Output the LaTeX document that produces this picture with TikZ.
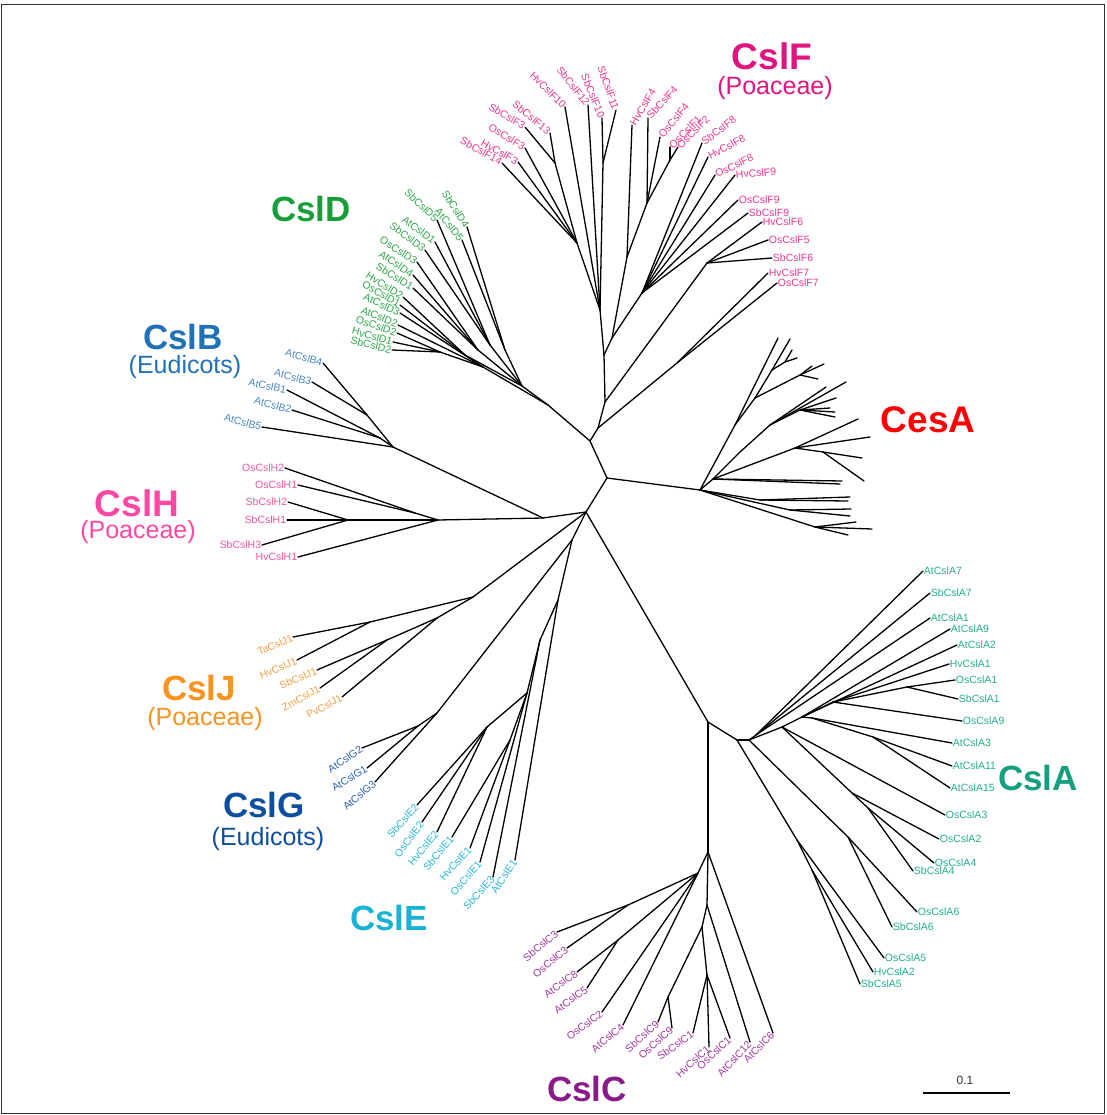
\documentclass[tikz,border=0pt]{standalone}
\usepackage{fontspec}
\setmainfont{Liberation Sans}
\definecolor{hF}{HTML}{E0157F}\definecolor{lFc}{HTML}{E8388F}
\definecolor{hD}{HTML}{179E38}\definecolor{lDc}{HTML}{2FA84A}
\definecolor{hB}{HTML}{2171B8}\definecolor{lBc}{HTML}{4A86C4}
\definecolor{hH}{HTML}{FF48A4}\definecolor{lHc}{HTML}{F0559F}
\definecolor{hA}{HTML}{139F80}\definecolor{lAc}{HTML}{22AE90}
\definecolor{hJ}{HTML}{F7931E}\definecolor{lJc}{HTML}{F3A045}
\definecolor{hG}{HTML}{0E4E9E}\definecolor{lGc}{HTML}{2A62B0}
\definecolor{hE}{HTML}{1AB3D5}\definecolor{lEc}{HTML}{2AB8D8}
\definecolor{hC}{HTML}{8A1A88}\definecolor{lCc}{HTML}{A23A9E}
\tikzset{
  br/.style={line width=1.3pt, line cap=round, black},
  lf/.style={font=\fontsize{10.5}{12}\selectfont, inner sep=0.7pt},
  lF/.style={lf,text=lFc}, lD/.style={lf,text=lDc}, lB/.style={lf,text=lBc},
  lH/.style={lf,text=lHc}, lA/.style={lf,text=lAc}, lJ/.style={lf,text=lJc},
  lG/.style={lf,text=lGc}, lE/.style={lf,text=lEc}, lC/.style={lf,text=lCc},
  hd/.style={font=\fontsize{35}{40}\selectfont\bfseries, inner sep=0pt},
  subt/.style={font=\fontsize{25}{30}\selectfont, inner sep=0pt}
}
\newcommand{\Leaf}[7]{\node[#6,anchor=#3,rotate=#4] (#1) at (#2) {#7}; \draw[br] (#5) -- (#1.#3);}
\begin{document}
\begin{tikzpicture}[x=1pt,y=-1pt]
\useasboundingbox (0,0) rectangle (1106,1115);
\coordinate (frA) at (1.5,4.5); \coordinate (frB) at (1104.5,1113.5);
\draw[line width=1.6pt, black!80] (frA) rectangle (frB);
% ---------- internal nodes ----------
\coordinate (R1) at (607,478); \coordinate (R2) at (586,512);
\coordinate (FD) at (590,441); \coordinate (F1) at (598,428); \coordinate (F2) at (605,402);
\coordinate (FV) at (604,355); \coordinate (FA) at (600,310); \coordinate (F3g) at (577,243);
\coordinate (F313) at (555,163); \coordinate (F1011) at (603,163); \coordinate (FB) at (612,338);
\coordinate (FB1) at (627,257); \coordinate (F4g) at (647,203); \coordinate (F12) at (670,160);
\coordinate (FC) at (642,293); \coordinate (F6) at (707,263); \coordinate (F7) at (677,363);
\coordinate (D1) at (548,405); \coordinate (Da) at (522,386); \coordinate (Db) at (483,367);
\coordinate (Da4) at (505,350); \coordinate (Da1) at (490,345); \coordinate (Da2) at (478,350);
\coordinate (Da3) at (465,355); \coordinate (Db1) at (440,352);
\coordinate (BH) at (543,518); \coordinate (B0) at (393,447); \coordinate (B43) at (367,415);
\coordinate (B12) at (380,438); \coordinate (H0) at (438,520); \coordinate (H2) at (415,513);
\coordinate (H1) at (348,520);
\coordinate (J0) at (473,597); \coordinate (J1) at (370,622); \coordinate (J2) at (437,618);
\coordinate (J3) at (387,640);
\coordinate (GE) at (572,540); \coordinate (G0) at (437,713); \coordinate (G1) at (418,726);
\coordinate (E0) at (558,600); \coordinate (E1) at (540,640); \coordinate (E2) at (527,693);
\coordinate (E3) at (510,740); \coordinate (E4) at (487,727);
\coordinate (AC) at (708,722); \coordinate (Alow) at (737,740); \coordinate (A0) at (749,740);
\coordinate (AU) at (756,735); \coordinate (A1) at (782,727); \coordinate (A2) at (802,717);
\coordinate (A3) at (833,702); \coordinate (A31) at (907,687); \coordinate (A4) at (812,718);
\coordinate (A41) at (873,737); \coordinate (Am) at (852,793); \coordinate (Am2) at (868,808);
\coordinate (L1) at (797,840); \coordinate (L1b) at (812,870); \coordinate (L2) at (848,837);
\coordinate (C0) at (708,852); \coordinate (C1) at (698,873); \coordinate (C11) at (628,905);
\coordinate (C12) at (618,940); \coordinate (C2) at (707,905); \coordinate (C3) at (702,927);
\coordinate (C4) at (707,975); \coordinate (C5) at (668,997);
% CesA
\coordinate (Ce0) at (700,490); \coordinate (Cu1) at (735,425); \coordinate (Cu2) at (755,398);
\coordinate (Cu3) at (772,370); \coordinate (Cu3a) at (785,362); \coordinate (Cu4) at (800,375);
\coordinate (Ch) at (713,479); \coordinate (Cm1) at (740,452); \coordinate (Cm2) at (770,425);
\coordinate (Cm3) at (800,410); \coordinate (Cm4) at (795,448); \coordinate (Cm5) at (823,452);
\coordinate (Cl1) at (760,500); \coordinate (Cl2) at (790,510); \coordinate (Cl3) at (815,527);
\coordinate (t1) at (778,338); \coordinate (t2) at (790,339); \coordinate (t3) at (797,358);
\coordinate (t4) at (792,350); \coordinate (t5) at (824,364); \coordinate (t6) at (812,366);
\coordinate (t7) at (818,379); \coordinate (t8) at (846,382); \coordinate (t9) at (826,387);
\coordinate (t10) at (836,398); \coordinate (t11) at (830,408); \coordinate (t12) at (835,412);
\coordinate (t13) at (835,417); \coordinate (t14) at (858,419); \coordinate (t15) at (870,437);
\coordinate (t16) at (862,458); \coordinate (t17) at (864,481); \coordinate (t18) at (842,481);
\coordinate (t19) at (840,484); \coordinate (t20) at (850,497); \coordinate (t21) at (848,501);
\coordinate (t22) at (851,509); \coordinate (t23) at (850,516); \coordinate (t24) at (856,522);
\coordinate (t25) at (872,529); \coordinate (t26) at (848,535);
% ---------- internal edges ----------
\foreach \a/\b in {R1/R2,R1/FD,R1/Ce0,R2/BH,R2/J0,R2/GE,R2/AC,
  FD/D1,FD/F1,F1/F2,F1/F7,F2/FV,F2/F6,FV/FA,FV/FB,FA/F3g,FA/F1011,F3g/F313,FB/FB1,FB/FC,FB1/F4g,F4g/F12,
  D1/Da,D1/Db,Da/Da4,Da/Da1,Da/Da2,Da/Da3,Db/Db1,
  BH/B0,BH/H0,B0/B43,B0/B12,H0/H2,H0/H1,
  J0/J1,J0/J2,J2/J3,GE/G0,GE/E0,G0/G1,E0/E1,E1/E2,E2/E3,E2/E4,
  AC/Alow,AC/C0,Alow/A0,Alow/L1,A0/AU,A0/L2,A0/A1,A1/A2,A1/Am,Am/Am2,A2/A3,A2/A4,A3/A31,A4/A41,L1/L1b,
  C0/C1,C0/C2,C1/C11,C1/C12,C2/C3,C3/C4,C3/C5,
  Ce0/Cu1,Cu1/Cu2,Cu2/Cu3,Cu3/Cu3a,Cu2/Cu4,Ce0/Ch,Ch/Cm1,Cm1/Cm2,Cm2/Cm3,Ch/Cm4,Cm4/Cm5,Ce0/Cl1,Ce0/Cl2,Ce0/Cl3,
  Cu1/t1,Cu3/t2,Cu3a/t3,Cu3a/t4,Cu4/t5,Cu4/t6,Cu4/t7,Cm2/t8,Cm2/t9,Cm3/t10,Cm3/t11,Cm3/t12,Cm3/t13,
  Cm4/t14,Cm4/t15,Cm5/t16,Cm5/t17,Ch/t18,Ch/t19,Cl1/t20,Cl1/t21,Cl2/t22,Cl2/t23,Cl3/t24,Cl3/t25,Cl3/t26}
  \draw[br] (\a) -- (\b);
% ---------- CslF ----------
\Leaf{sbf14}{502,163}{east}{-30}{F3g}{lF}{SbCslF14}
\Leaf{hvf3}{518,162}{east}{-29}{F3g}{lF}{HvCslF3}
\Leaf{osf3}{525,148}{east}{-32}{F3g}{lF}{OsCslF3}
\Leaf{sbf3}{525,127}{east}{-31}{F313}{lF}{SbCslF3}
\Leaf{sbf13}{550,133}{east}{-40}{F313}{lF}{SbCslF13}
\Leaf{hvf10}{565,107}{east}{-45}{FA}{lF}{HvCslF10}
\Leaf{sbf12}{588,105}{east}{-52}{FA}{lF}{SbCslF12}
\Leaf{sbf10}{602,118}{east}{-68}{F1011}{lF}{SbCslF10}
\Leaf{sbf11}{616,110}{east}{-71}{F1011}{lF}{SbCslF11}
\Leaf{hvf4}{632,125}{west}{59}{FB1}{lF}{HvCslF4}
\Leaf{sbf4}{648,118}{west}{48}{F4g}{lF}{SbCslF4}
\Leaf{osf4}{660,137}{west}{50}{F4g}{lF}{OsCslF4}
\Leaf{osf1}{670,147}{west}{45}{F12}{lF}{OsCslF1}
\Leaf{osf2}{678,147}{west}{45}{F12}{lF}{OsCslF2}
\Leaf{sbf8}{702,143}{west}{37}{FC}{lF}{SbCslF8}
\Leaf{hvf8}{708,157}{west}{28}{FC}{lF}{HvCslF8}
\Leaf{osf8}{715,175}{west}{26}{FC}{lF}{OsCslF8}
\Leaf{hvf9}{735,175}{west}{5}{FC}{lF}{HvCslF9}
\Leaf{osf9}{738,200}{west}{0}{FC}{lF}{OsCslF9}
\Leaf{sbf9}{748,213}{west}{0}{FC}{lF}{SbCslF9}
\Leaf{hvf6}{762,222}{west}{0}{F6}{lF}{HvCslF6}
\Leaf{osf5}{768,240}{west}{0}{F6}{lF}{OsCslF5}
\Leaf{sbf6}{772,258}{west}{0}{F6}{lF}{SbCslF6}
\Leaf{hvf7}{768,273}{west}{0}{F7}{lF}{HvCslF7}
\Leaf{osf7}{777,283}{west}{0}{F7}{lF}{OsCslF7}
% ---------- CslD ----------
\Leaf{sbd4}{467,227}{east}{-58}{Da4}{lD}{SbCslD4}
\Leaf{atd5}{462,240}{east}{-51}{Da4}{lD}{AtCslD5}
\Leaf{sbd5}{437,220}{east}{-44}{Da1}{lD}{SbCslD5}
\Leaf{atd1}{435,242}{east}{-37}{Da1}{lD}{AtCslD1}
\Leaf{sbd3}{425,250}{east}{-37}{Da1}{lD}{SbCslD3}
\Leaf{osd3}{417,262}{east}{-33}{Da2}{lD}{OsCslD3}
\Leaf{atd4}{413,275}{east}{-34}{Da2}{lD}{AtCslD4}
\Leaf{sbd1}{413,288}{east}{-32}{Da2}{lD}{SbCslD1}
\Leaf{hvd2}{403,297}{east}{-32}{Da3}{lD}{HvCslD2}
\Leaf{osd1}{400,305}{east}{-31}{Da3}{lD}{OsCslD1}
\Leaf{atd3}{400,313}{east}{-25}{Db}{lD}{AtCslD3}
\Leaf{atd2}{398,325}{east}{-23}{Db}{lD}{AtCslD2}
\Leaf{osd2}{397,333}{east}{-19}{Db1}{lD}{OsCslD2}
\Leaf{hvd1}{393,342}{east}{-16}{Db1}{lD}{HvCslD1}
\Leaf{sbd2}{392,350}{east}{-14}{Db1}{lD}{SbCslD2}
% ---------- CslB ----------
\Leaf{atb4}{323,363}{east}{-16}{B43}{lB}{AtCslB4}
\Leaf{atb3}{312,382}{east}{-15}{B43}{lB}{AtCslB3}
\Leaf{atb1}{287,390}{east}{-12}{B12}{lB}{AtCslB1}
\Leaf{atb2}{292,410}{east}{-15}{B12}{lB}{AtCslB2}
\Leaf{atb5}{262,427}{east}{-15}{B0}{lB}{AtCslB5}
% ---------- CslH ----------
\Leaf{osh2}{285,468}{east}{0}{H2}{lH}{OsCslH2}
\Leaf{osh1}{298,485}{east}{0}{H2}{lH}{OsCslH1}
\Leaf{sbh2}{288,502}{east}{0}{H1}{lH}{SbCslH2}
\Leaf{sbh1}{287,520}{east}{0}{H1}{lH}{SbCslH1}
\Leaf{sbh3}{262,545}{east}{0}{H1}{lH}{SbCslH3}
\Leaf{hvh1}{298,557}{east}{0}{H0}{lH}{HvCslH1}
% ---------- CslJ ----------
\Leaf{taj1}{293,637}{east}{23}{J1}{lJ}{TaCslJ1}
\Leaf{hvj1}{297,660}{east}{23}{J1}{lJ}{HvCslJ1}
\Leaf{sbj1}{317,670}{east}{23}{J3}{lJ}{SbCslJ1}
\Leaf{zmj1}{320,688}{east}{28}{J3}{lJ}{ZmCslJ1}
\Leaf{pvj1}{342,697}{east}{28}{J2}{lJ}{PvCslJ1}
% ---------- CslG ----------
\Leaf{atg2}{362,748}{east}{34}{G1}{lG}{AtCslG2}
\Leaf{atg1}{367,768}{east}{31}{G1}{lG}{AtCslG1}
\Leaf{atg3}{375,782}{east}{40}{G0}{lG}{AtCslG3}
% ---------- CslE ----------
\Leaf{sbe2}{417,805}{east}{48}{E4}{lE}{SbCslE2}
\Leaf{ose2}{422,822}{east}{53}{E4}{lE}{OsCslE2}
\Leaf{hve2}{437,832}{east}{50}{E4}{lE}{HvCslE2}
\Leaf{sbe1}{452,837}{east}{50}{E3}{lE}{SbCslE1}
\Leaf{hve1}{470,848}{east}{47}{E3}{lE}{HvCslE1}
\Leaf{ose1}{480,862}{east}{49}{E2}{lE}{OsCslE1}
\Leaf{sbe3}{493,877}{east}{48}{E1}{lE}{SbCslE3}
\Leaf{ate1}{515,860}{east}{56}{E0}{lE}{AtCslE1}
% ---------- CslC ----------
\Leaf{sbc3}{557,932}{east}{40}{C11}{lC}{SbCslC3}
\Leaf{osc3}{567,948}{east}{40}{C11}{lC}{OsCslC3}
\Leaf{atc8}{577,972}{east}{36}{C12}{lC}{AtCslC8}
\Leaf{atc5}{587,988}{east}{36}{C12}{lC}{AtCslC5}
\Leaf{osc2}{602,1012}{east}{37}{C1}{lC}{OsCslC2}
\Leaf{atc4}{623,1025}{east}{40}{C1}{lC}{AtCslC4}
\Leaf{sbc9}{658,1022}{east}{42}{C5}{lC}{SbCslC9}
\Leaf{osc9}{672,1028}{east}{42}{C5}{lC}{OsCslC9}
\Leaf{sbc1}{693,1033}{east}{35}{C4}{lC}{SbCslC1}
\Leaf{hvc1}{709,1047}{east}{42}{C4}{lC}{HvCslC1}
\Leaf{osc1}{730,1038}{east}{43}{C4}{lC}{OsCslC1}
\Leaf{atc12}{750,1042}{east}{47}{C2}{lC}{AtCslC12}
\Leaf{atc6}{773,1033}{east}{45}{C0}{lC}{AtCslC6}
% ---------- CslA ----------
\Leaf{ata7}{923,571}{west}{0}{AU}{lA}{AtCslA7}
\Leaf{sba7}{930,593}{west}{0}{AU}{lA}{SbCslA7}
\Leaf{ata1}{930,618}{west}{0}{AU}{lA}{AtCslA1}
\Leaf{ata9}{950,629}{west}{0}{A2}{lA}{AtCslA9}
\Leaf{ata2}{957,645}{west}{0}{A2}{lA}{AtCslA2}
\Leaf{hva1}{949,664}{west}{0}{A3}{lA}{HvCslA1}
\Leaf{osa1}{955,680}{west}{0}{A31}{lA}{OsCslA1}
\Leaf{sba1}{958,699}{west}{0}{A31}{lA}{SbCslA1}
\Leaf{osa9}{962,721}{west}{0}{A3}{lA}{OsCslA9}
\Leaf{ata3}{952,743}{west}{0}{A4}{lA}{AtCslA3}
\Leaf{ata11}{952,766}{west}{0}{A41}{lA}{AtCslA11}
\Leaf{ata15}{950,788}{west}{0}{A41}{lA}{AtCslA15}
\Leaf{osa3}{945,815}{west}{0}{A1}{lA}{OsCslA3}
\Leaf{osa2}{939,839}{west}{0}{Am}{lA}{OsCslA2}
\Leaf{osa4}{934,863}{west}{0}{Am2}{lA}{OsCslA4}
\Leaf{sba4}{913,871}{west}{0}{Am2}{lA}{SbCslA4}
\Leaf{osa6}{917,912}{west}{0}{L2}{lA}{OsCslA6}
\Leaf{sba6}{892,927}{west}{0}{L2}{lA}{SbCslA6}
\Leaf{osa5}{884,958}{west}{0}{L1}{lA}{OsCslA5}
\Leaf{hva2}{873,972}{west}{0}{L1b}{lA}{HvCslA2}
\Leaf{sba5}{860,984}{west}{0}{L1b}{lA}{SbCslA5}
% ---------- headings ----------
\node[hd,text=hF,font=\fontsize{37}{40}\selectfont\bfseries] (tF) at (772,56) {CslF};
\node[subt,text=hF] (sF) at (775,88) {(Poaceae)};
\node[hd,text=hD] (tD) at (311,209) {CslD};
\node[hd,text=hB] (tB) at (183,337) {CslB};
\node[subt,text=hB] (sB) at (185,367) {(Eudicots)};
\node[hd,text=hH,font=\fontsize{37}{40}\selectfont\bfseries] (tH) at (137,503) {CslH};
\node[subt,text=hH] (sH) at (138,532) {(Poaceae)};
\node[hd,text=red,font=\fontsize{37}{40}\selectfont\bfseries] (tCe) at (928,420) {CesA};
\node[hd,text=hA] (tA) at (1038,778) {CslA};
\node[hd,text=hJ] (tJ) at (199,688) {CslJ};
\node[subt,text=hJ] (sJ) at (205,719) {(Poaceae)};
\node[hd,text=hG] (tG) at (264,805) {CslG};
\node[subt,text=hG] (sG) at (268,839) {(Eudicots)};
\node[hd,text=hE] (tE) at (389,918) {CslE};
\node[hd,text=hC] (tC) at (587,1089) {CslC};
% ---------- scale bar ----------
\coordinate (sb1) at (923,1093); \coordinate (sb2) at (1010,1093);
\draw[line width=1.3pt] (sb1) -- (sb2);
\node[font=\fontsize{12}{14}\selectfont, text=black!80] (sbl) at (965,1080) {0.1};
\end{tikzpicture}
\end{document}
